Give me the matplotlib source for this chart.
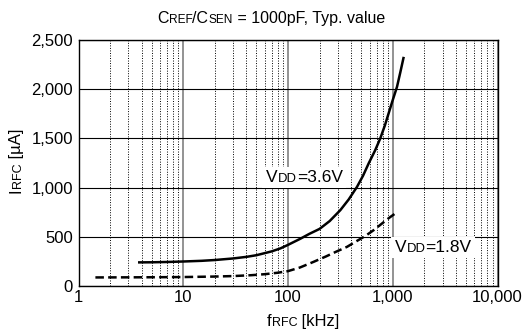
import numpy as np
import matplotlib
matplotlib.use("Agg")
import matplotlib.pyplot as plt
import matplotlib.transforms as mtransforms
from matplotlib.patches import Rectangle
from matplotlib.ticker import FixedLocator, FixedFormatter, NullFormatter

plt.rcParams['font.family'] = ['Liberation Sans', 'DejaVu Sans']

# Supply current vs. RFC frequency
freq_36 = [3.7, 5, 7, 10, 15, 20, 30, 40, 50, 70, 85, 100, 131, 160, 200, 250,
           316, 380, 456, 520, 589, 680, 760, 840, 913, 1000, 1098, 1180, 1273]
curr_36 = [240, 241, 244, 249, 256, 264, 280, 296, 313, 352, 383, 418, 480, 530, 580, 660,
           771, 880, 1008, 1120, 1246, 1380, 1500, 1630, 1754, 1890, 2024, 2170, 2329]

freq_18 = [1.45, 3, 5, 10, 20, 30, 45, 60, 80, 100, 130, 176, 230, 290, 366, 450,
           550, 658, 800, 930, 1059]
curr_18 = [87, 88, 89, 91, 96, 101, 110, 120, 135, 151, 188, 246, 300, 350, 398, 455,
           510, 568, 640, 695, 738]

x_ticks = [1, 10, 100, 1000, 10000]
x_ticklabels = ["1", "10", "100", "1,000", "10,000"]
y_ticks = [0, 500, 1000, 1500, 2000, 2500]
y_ticklabels = ["0", "500", "1,000", "1,500", "2,000", "2,500"]

W, H, DPI = 530, 331, 100
fig = plt.figure(figsize=(W / DPI, H / DPI), dpi=DPI)
ax = fig.add_axes([78.5 / W, (H - 286) / H, (497.5 - 78.5) / W, (286 - 40) / H])

ax.set_xscale("log")
ax.set_xlim(1, 10000)
ax.set_ylim(0, 2500)

ax.xaxis.set_major_locator(FixedLocator(x_ticks))
ax.xaxis.set_major_formatter(FixedFormatter(x_ticklabels))
minor = [m * 10 ** d for d in range(0, 4) for m in range(2, 10)]
ax.xaxis.set_minor_locator(FixedLocator(minor))
ax.xaxis.set_minor_formatter(NullFormatter())
ax.yaxis.set_major_locator(FixedLocator(y_ticks))
ax.yaxis.set_major_formatter(FixedFormatter(y_ticklabels))

ax.tick_params(axis="both", which="both", length=0, labelsize=12)
ax.tick_params(axis="x", pad=3)
ax.tick_params(axis="y", pad=4)

# grid: gray decade lines, dotted minor lines, solid horizontal lines
ax.grid(True, axis="x", which="major", color="#808080", lw=1.2, ls="-")
ax.grid(True, axis="x", which="minor", color="black", lw=0.7, ls=(0, (1, 1.6)))
ax.grid(True, axis="y", which="major", color="black", lw=0.8, ls="-")
ax.set_axisbelow(True)
for sp in ax.spines.values():
    sp.set_linewidth(1.0)
    sp.set_color("black")

ax.plot(freq_36, curr_36, color="black", lw=1.8, solid_capstyle="butt",
        solid_joinstyle="round")
ax.plot(freq_18, curr_18, color="black", lw=1.8, ls=(0, (3.4, 1.7)))


def mixed_text(x, y, pieces, rotation=0, box=False):
    """Draw text built from runs of different sizes along one baseline (pixels)."""
    renderer = fig.canvas.get_renderer()
    ident = mtransforms.IdentityTransform()
    ang = np.deg2rad(rotation)
    ux, uy = np.cos(ang), np.sin(ang)
    pos = 0.0
    exts = []
    for s, size in pieces:
        t = fig.text(x + pos * ux, y + pos * uy, s, fontsize=size, rotation=rotation,
                     rotation_mode="anchor", ha="left", va="baseline",
                     transform=ident, zorder=3)
        e = t.get_window_extent(renderer)
        exts.append(e)
        pos += e.width if rotation == 0 else e.height
    if box:
        x0 = min(e.x0 for e in exts) - 4
        x1 = max(e.x1 for e in exts) + 3
        y0 = min(e.y0 for e in exts) - 3
        y1 = max(e.y1 for e in exts) + 3
        fig.patches.append(Rectangle((x0, y0), x1 - x0, y1 - y0, transform=ident,
                                     facecolor="white", edgecolor="none", zorder=2))


big, small = 12, 9
mixed_text(157, H - 23, [("C", 11.5), ("REF", 8.6), ("/C", 11.5), ("SEN", 8.6),
                         (" = 1000pF, Typ. value", 11.5)])
mixed_text(267, H - 326, [("f", big), ("RFC", small), (" [kHz]", big)])
mixed_text(21, H - 193, [("I", big), ("RFC", small), (" [µA]", big)], rotation=90)
mixed_text(266, H - 182, [("V", 12.5), ("DD", 9.4), ("=3.6V", 12.5)], box=True)
mixed_text(395, H - 252, [("V", 12.5), ("DD", 9.4), ("=1.8V", 12.5)], box=True)

fig.savefig("out.png", dpi=DPI)
